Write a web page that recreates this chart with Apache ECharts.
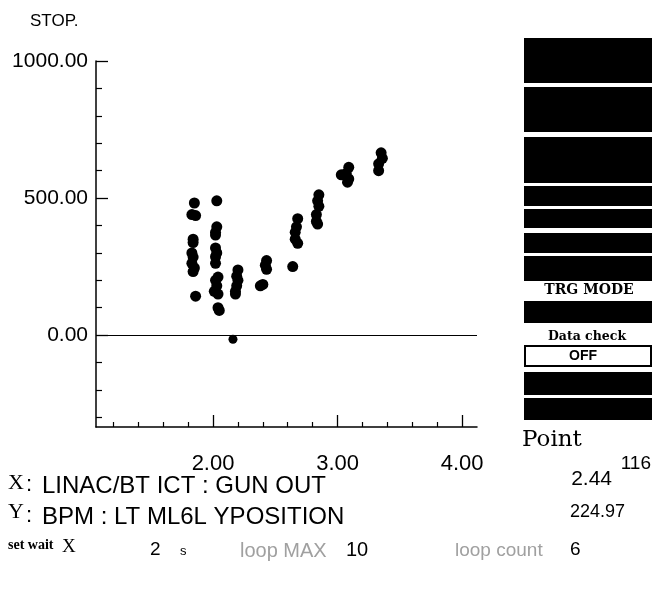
<!DOCTYPE html>
<html>
<head>
<meta charset="utf-8">
<script src="https://cdn.jsdelivr.net/npm/echarts@6/dist/echarts.min.js"></script>
<style>
  html, body { margin: 0; padding: 0; background: #fff; }
  #chart { width: 670px; height: 592px; }
</style>
</head>
<body>
<div id="chart"></div>
<script>
// ---- data ----
const xValues = [
  1.85, 1.83, 1.86, 1.84, 1.84, 1.83, 1.84, 1.83, 1.85, 1.84, 1.86,
  2.03, 2.03, 2.02, 2.02, 2.02, 2.03, 2.02, 2.02, 2.04, 2.02, 2.03, 2.01, 2.04, 2.05, 2.04,
  2.20, 2.19, 2.20, 2.19, 2.18, 2.18,
  2.43, 2.42, 2.43, 2.38, 2.40,
  2.64,
  2.68, 2.67, 2.66, 2.66, 2.68,
  2.85, 2.84, 2.85, 2.83, 2.83, 2.84,
  3.09, 3.07, 3.03, 3.09, 3.08,
  3.35, 3.36, 3.33, 3.33
];
const yValues = [
  482, 440, 436, 350, 338, 300, 285, 262, 245, 232, 142,
  490, 395, 375, 365, 318, 300, 286, 262, 212, 200, 180, 160, 150, 90, 100,
  238, 215, 200, 180, 160, 150,
  272, 255, 240, 180, 185,
  250,
  425, 395, 375, 350, 335,
  512, 490, 470, 440, 415, 405,
  612, 590, 585, 570, 558,
  665, 645, 625, 600
];
const currentPoint = [2.16, -15];
const xMajorTicks = [2, 3, 4];
const xMinorTicks = [1.2, 1.4, 1.6, 1.8, 2.2, 2.4, 2.6, 2.8, 3.2, 3.4, 3.6, 3.8];
const yMajorTicks = [0, 500, 1000];
const yMinorTicks = [-300, -200, -100, 100, 200, 300, 400, 600, 700, 800, 900];
const xInfo = { label: "LINAC/BT ICT : GUN OUT", value: "2.44" };
const yInfo = { label: "BPM : LT ML6L YPOSITION", value: "224.97" };
const pointCount = "116";
const waitX = "2";
const loopMax = "10";
const loopCount = "6";

// ---- chart ----
const points = xValues.map((x, i) => [x, yValues[i]]);
const SANS = '"Liberation Sans", Arial, sans-serif';
const SERIF = '"DejaVu Serif", serif';
const LSERIF = '"Liberation Serif", serif';
const X_MIN = 1.06, X_MAX = 4.12, Y_MIN = -335, Y_MAX = 1000;

const chart = echarts.init(document.getElementById('chart'), null, { renderer: 'canvas' });

function panelBox(y1, y2) {
  return { type: 'rect', shape: { x: 524, y: y1, width: 128, height: y2 - y1 },
           style: { fill: '#000' } };
}
function txt(x, y, text, font, opts) {
  return { type: 'text', x: x, y: y,
    style: Object.assign({ text: text, font: font, fill: '#000', textVerticalAlign: 'middle' }, opts || {}) };
}

const graphics = [
  txt(30, 21, 'STOP.', '17px ' + SANS),
  panelBox(38, 83), panelBox(87, 132), panelBox(137, 183),
  panelBox(186, 206), panelBox(209, 228), panelBox(233, 253), panelBox(256, 281),
  txt(589, 290, 'TRG MODE', 'bold 14px ' + SERIF, { textAlign: 'center' }),
  panelBox(301, 323),
  txt(587, 337, 'Data check', 'bold 12.5px ' + SERIF, { textAlign: 'center' }),
  { type: 'rect', shape: { x: 525, y: 346, width: 126, height: 20 },
    style: { fill: '#fff', stroke: '#000', lineWidth: 2 } },
  txt(583, 356.5, 'OFF', 'bold 14px ' + SANS, { textAlign: 'center' }),
  panelBox(372, 395), panelBox(398, 420),
  txt(522, 440, 'Point', '23px ' + SERIF),
  txt(651, 464, pointCount, '19px ' + SANS, { textAlign: 'right' }),
  txt(8, 483, 'X', '22px ' + LSERIF),
  txt(26, 485, ':', '22px ' + SANS),
  txt(42, 486, xInfo.label, '24px ' + SANS),
  txt(612, 479, xInfo.value, '21px ' + SANS, { textAlign: 'right' }),
  txt(8, 512, 'Y', '22px ' + LSERIF),
  txt(26, 516, ':', '22px ' + SANS),
  txt(42, 517, yInfo.label, '24px ' + SANS),
  txt(625, 512, yInfo.value, '18px ' + SANS, { textAlign: 'right' }),
  txt(8, 545, 'set wait', 'bold 14px ' + LSERIF),
  txt(62, 547, 'X', '19px ' + LSERIF),
  txt(150, 550, waitX, '19px ' + SANS),
  txt(180, 551, 's', '13px ' + SANS),
  txt(240, 551, 'loop MAX', '20px ' + SANS, { fill: '#a0a0a0' }),
  txt(346, 550, loopMax, '20px ' + SANS),
  txt(455, 551, 'loop count', '19px ' + SANS, { fill: '#a0a0a0' }),
  txt(570, 550, loopCount, '19px ' + SANS)
];

const axisLineStyle = { show: true, onZero: false, lineStyle: { color: '#000', width: 1.5 } };

chart.setOption({
  animation: false,
  backgroundColor: '#fff',
  grid: { left: 96, right: 193, top: 61, bottom: 165, containLabel: false },
  xAxis: [
    {
      type: 'value', min: X_MIN, max: X_MAX, position: 'bottom',
      axisLine: axisLineStyle,
      axisTick: { show: true, inside: true, length: 12, customValues: xMajorTicks,
                  lineStyle: { color: '#000', width: 1.3 } },
      axisLabel: { show: true, customValues: xMajorTicks, margin: 26,
                   formatter: v => v.toFixed(2), color: '#000', fontSize: 22, fontFamily: SANS },
      splitLine: { show: false }
    },
    {
      type: 'value', min: X_MIN, max: X_MAX, position: 'bottom',
      axisLine: { show: false, onZero: false },
      axisTick: { show: true, inside: true, length: 5, customValues: xMinorTicks,
                  lineStyle: { color: '#000', width: 1.2 } },
      axisLabel: { show: false },
      splitLine: { show: false }
    }
  ],
  yAxis: [
    {
      type: 'value', min: Y_MIN, max: Y_MAX, position: 'left',
      axisLine: axisLineStyle,
      axisTick: { show: true, inside: true, length: 12, customValues: yMajorTicks,
                  lineStyle: { color: '#000', width: 1.3 } },
      axisLabel: { show: true, customValues: yMajorTicks, margin: 8,
                   formatter: v => v.toFixed(2), color: '#000', fontSize: 21, fontFamily: SANS },
      splitLine: { show: false }
    },
    {
      type: 'value', min: Y_MIN, max: Y_MAX, position: 'left',
      axisLine: { show: false, onZero: false },
      axisTick: { show: true, inside: true, length: 6, customValues: yMinorTicks,
                  lineStyle: { color: '#000', width: 1.2 } },
      axisLabel: { show: false },
      splitLine: { show: false }
    }
  ],
  series: [
    {
      type: 'scatter', xAxisIndex: 0, yAxisIndex: 0,
      data: points, symbol: 'circle', symbolSize: 11,
      itemStyle: { color: '#000', opacity: 1 },
      markLine: {
        silent: true, symbol: 'none', label: { show: false },
        lineStyle: { color: '#000', width: 1.2, type: 'solid' },
        data: [{ yAxis: 0 }]
      }
    },
    {
      type: 'scatter', xAxisIndex: 0, yAxisIndex: 0,
      data: [currentPoint], symbol: 'circle', symbolSize: 9,
      itemStyle: { color: '#000', opacity: 1 }
    }
  ],
  graphic: graphics
});
</script>
</body>
</html>
